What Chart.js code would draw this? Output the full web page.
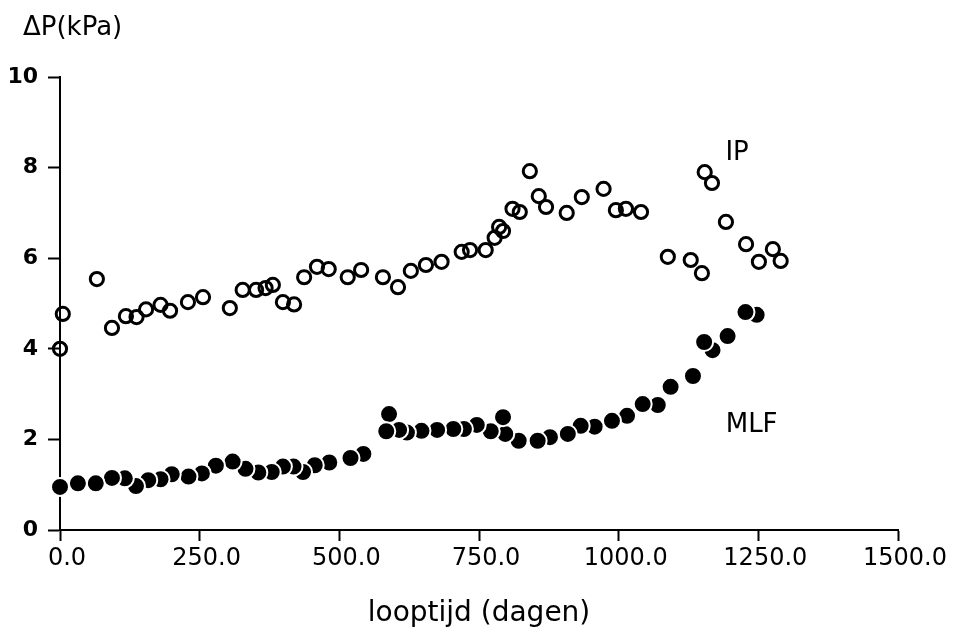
<!DOCTYPE html>
<html>
<head>
<meta charset="utf-8">
<script src="https://cdn.jsdelivr.net/npm/chart.js@4.4.1/dist/chart.umd.min.js"></script>
<style>
  html, body { margin: 0; padding: 0; background: #fff; }
  #wrap { width: 956px; height: 637px; }
</style>
</head>
<body>
<div id="wrap"><canvas id="chart"></canvas></div>
<script>
// IP (open circles): looptijd in dagen, drukval in kPa
const ipDays = [0, 5, 66, 93, 118, 137, 154, 180, 197, 229, 256, 304, 327, 351, 368, 381, 399, 419,
  437, 460, 481, 515, 539, 578, 605, 628, 655, 683, 719, 734, 762, 778, 786, 793, 810, 823,
  841, 857, 870, 907, 934, 973, 995, 1013, 1040, 1088, 1129, 1149, 1154, 1167, 1192, 1228, 1251, 1276, 1290];
const ipDp = [4.0, 4.77, 5.54, 4.46, 4.72, 4.70, 4.87, 4.97, 4.84, 5.03, 5.14, 4.90, 5.30, 5.30, 5.34, 5.41, 5.03, 4.98,
  5.58, 5.81, 5.76, 5.58, 5.74, 5.58, 5.36, 5.72, 5.85, 5.92, 6.14, 6.18, 6.18, 6.45, 6.69, 6.60, 7.09, 7.02,
  7.92, 7.37, 7.13, 7.00, 7.35, 7.53, 7.06, 7.09, 7.02, 6.03, 5.96, 5.67, 7.90, 7.66, 6.80, 6.31, 5.92, 6.20, 5.94];

// MLF (filled circles)
const mlfDays = [0, 32, 64, 93, 116, 136, 158, 180, 200, 230, 254, 279, 309, 332, 355, 379, 399, 418,
  435, 456, 482, 520, 543, 584, 589, 607, 621, 647, 675, 704, 723, 746, 771, 793, 797, 821,
  855, 877, 909, 932, 957, 988, 1015, 1043, 1070, 1093, 1133, 1153, 1168, 1195, 1227, 1247];
const mlfDp = [0.95, 1.03, 1.03, 1.15, 1.14, 0.97, 1.10, 1.12, 1.23, 1.18, 1.25, 1.42, 1.51, 1.35, 1.27, 1.28, 1.40, 1.40,
  1.28, 1.43, 1.49, 1.59, 1.68, 2.18, 2.56, 2.21, 2.15, 2.19, 2.21, 2.23, 2.23, 2.32, 2.18, 2.49, 2.12, 1.97,
  1.97, 2.05, 2.12, 2.30, 2.28, 2.41, 2.52, 2.78, 2.76, 3.16, 3.40, 4.15, 3.97, 4.28, 4.81, 4.75];

const xTickValues = [0, 250, 500, 750, 1000, 1250, 1500];
const yTickValues = [0, 2, 4, 6, 8, 10];

// series names placed next to the points, in data units
const seriesLabels = [
  { text: 'IP', x: 1212, y: 8.32 },
  { text: 'MLF', x: 1238, y: 2.32 }
];

const FONT = "'DejaVu Sans', sans-serif";

function toPoints(xs, ys) {
  return xs.map((x, i) => ({ x: x, y: ys[i] }));
}

const labelPlugin = {
  id: 'seriesLabels',
  afterDatasetsDraw(chart) {
    const ctx = chart.ctx;
    ctx.save();
    ctx.fillStyle = '#000';
    ctx.textBaseline = 'middle';

    // unit label above the y axis
    ctx.font = '26px ' + FONT;
    ctx.textAlign = 'left';
    ctx.fillText('ΔP(kPa)', chart.chartArea.left - 37, 28);

    ctx.textAlign = 'center';
    seriesLabels.forEach(l => {
      ctx.fillText(l.text, chart.scales.x.getPixelForValue(l.x), chart.scales.y.getPixelForValue(l.y));
    });
    ctx.restore();
  }
};

const ctx = document.getElementById('chart').getContext('2d');
new Chart(ctx, {
  type: 'scatter',
  data: {
    datasets: [
      {
        label: 'IP',
        data: toPoints(ipDays, ipDp),
        pointStyle: 'circle',
        pointRadius: 6.6,
        borderWidth: 3,
        borderColor: '#000',
        backgroundColor: 'rgba(0,0,0,0)',
        clip: false
      },
      {
        // drawn from right to left so the earlier point lies on top
        label: 'MLF',
        data: toPoints(mlfDays, mlfDp).reverse(),
        pointStyle: 'circle',
        pointRadius: 9,
        borderWidth: 2,
        borderColor: '#fff',
        backgroundColor: '#000',
        clip: false
      }
    ]
  },
  options: {
    responsive: true,
    maintainAspectRatio: false,
    animation: false,
    events: [],
    layout: { padding: { left: 4, right: 58, top: 77, bottom: 0 } },
    plugins: {
      legend: { display: false },
      tooltip: { enabled: false },
      title: { display: false }
    },
    scales: {
      x: {
        type: 'linear',
        min: 0,
        max: 1500,
        afterBuildTicks: s => { s.ticks = xTickValues.map(v => ({ value: v })); },
        afterFit: s => { s.height = 107; },
        border: { display: true, color: '#000', width: 2 },
        grid: { drawOnChartArea: false, drawTicks: true, tickLength: 11, tickColor: '#000', tickWidth: 2 },
        ticks: {
          color: '#000',
          font: { family: FONT, size: 24 },
          padding: 3,
          labelOffset: 7,
          maxRotation: 0,
          callback: v => v.toFixed(1)
        },
        title: {
          display: true,
          text: 'looptijd (dagen)',
          color: '#000',
          font: { family: FONT, size: 28 },
          padding: { top: 0, bottom: 6 }
        }
      },
      y: {
        min: 0,
        max: 10,
        afterBuildTicks: s => { s.ticks = yTickValues.map(v => ({ value: v })); },
        afterFit: s => { s.width = 56; },
        border: { display: true, color: '#000', width: 2 },
        grid: { drawOnChartArea: false, drawTicks: true, tickLength: 12, tickColor: '#000', tickWidth: 2 },
        ticks: {
          color: '#000',
          font: { family: FONT, size: 22, weight: 'bold' },
          padding: 10
        }
      }
    }
  },
  plugins: [labelPlugin]
});
</script>
</body>
</html>
